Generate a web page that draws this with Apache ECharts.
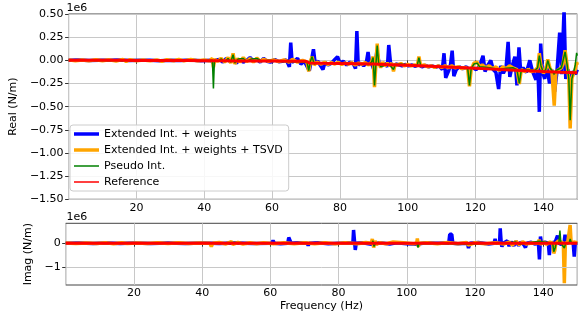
<!DOCTYPE html>
<html>
<head>
<meta charset="utf-8">
<script src="https://cdn.jsdelivr.net/npm/echarts@6/dist/echarts.min.js"></script>
<style>html,body{margin:0;padding:0;background:#fff}#c{width:585px;height:320px}</style>
</head>
<body>
<div id="c"></div>
<script>
// Values in units of 1e6 N/m, frequency in Hz
const seriesNames = ['Extended Int. + weights', 'Extended Int. + weights + TSVD', 'Pseudo Int.', 'Reference'];
const xTicks = [20, 40, 60, 80, 100, 120, 140];
const imagTicks = [-1, 0];

const blueReal = [[0,0.0],[3,0.003],[6,-0.002],[9,0.002],[12,0.0],[15,0.004],[18,-0.003],[21,0.002],[24,0.0],[27,-0.004],[30,0.002],[33,-0.002],[36,0.003],[39,-0.004],[42,0.0],[42.7,-0.03],[43.2,0.0],[44.5,0.01],[45.5,-0.02],[46.5,0.02],[47.5,-0.01],[48.5,0.02],[49.5,-0.03],[50.5,0.01],[51.5,-0.02],[52.5,0.0],[53.5,0.03],[54.5,-0.01],[55.5,0.01],[56.5,-0.02],[57.5,0.02],[58.5,-0.01],[59.5,-0.02],[60.8,0.01],[62,-0.015],[63,-0.01],[64.2,0.005],[65.1,-0.07],[65.5,0.19],[65.9,-0.02],[66.5,-0.01],[67.5,0.02],[68.5,-0.04],[69.5,-0.01],[70.5,-0.08],[71.0,-0.11],[71.6,0.0],[72.2,0.12],[72.7,-0.03],[73.5,-0.01],[74.3,-0.06],[75.0,-0.1],[75.6,-0.02],[76.5,-0.05],[77.5,-0.03],[78.5,0.01],[79.3,0.04],[80,-0.03],[81,-0.01],[82,-0.05],[83,-0.02],[84,-0.04],[84.6,-0.09],[85.0,0.317],[85.4,-0.05],[86.2,-0.03],[87,-0.06],[87.8,-0.02],[88.3,0.09],[88.8,-0.04],[89.5,-0.05],[90.2,-0.12],[90.9,0.1],[91.5,-0.02],[92.3,-0.06],[93.2,-0.03],[94.0,-0.07],[94.4,0.165],[94.9,-0.02],[95.6,-0.08],[96.5,-0.04],[97.5,-0.05],[98.3,-0.06],[99.2,-0.045],[100.2,-0.06],[101.2,-0.05],[102.3,-0.065],[103.2,-0.045],[104.2,-0.07],[105.2,-0.055],[106.2,-0.07],[107.2,-0.06],[108.2,-0.075],[109.2,-0.06],[110.2,-0.1],[110.7,0.076],[111.2,-0.19],[112,-0.12],[112.6,-0.05],[113.1,0.105],[113.6,-0.17],[114.3,-0.1],[115.2,-0.07],[116.2,-0.09],[117.2,-0.07],[118.2,-0.1],[119.2,-0.08],[120.2,-0.1],[121.2,-0.06],[122.2,0.05],[122.8,-0.12],[123.5,-0.06],[124.5,0.0],[125.2,-0.1],[126,-0.13],[126.8,-0.31],[127.4,-0.06],[128.2,-0.14],[129,-0.08],[129.6,0.2],[130.1,-0.18],[130.8,-0.06],[131.6,0.04],[132.2,-0.27],[132.8,0.14],[133.3,-0.12],[134,-0.08],[135,-0.13],[136,0.0],[136.8,-0.12],[137.8,-0.21],[138.4,-0.1],[138.8,-0.556],[139.2,0.18],[139.7,-0.12],[140.4,-0.2],[141,-0.05],[141.8,-0.25],[142.5,-0.1],[143.3,-0.34],[144,-0.12],[144.8,0.3],[145.4,-0.15],[146.1,0.55],[146.6,-0.2],[147.3,-0.1],[148,-0.2],[148.8,-0.12],[149.5,-0.15],[150,-0.1]];

const orangeReal = [[0,0.005],[2,-0.005],[4,0.004],[6,-0.006],[8,0.006],[10,-0.004],[12,0.005],[14,-0.008],[16,0.01],[17,-0.012],[18,0.006],[20,-0.005],[22,0.004],[24,-0.006],[26,0.005],[27.5,-0.01],[29,0.006],[31,-0.005],[32.5,0.01],[34,-0.006],[36,0.008],[38,-0.005],[40,0.004],[41.5,-0.006],[42.4,0.02],[42.7,-0.075],[43.1,0.01],[44,-0.01],[45,0.02],[46,-0.02],[47,0.03],[47.8,-0.03],[48.5,0.075],[49,-0.04],[49.8,0.02],[50.5,-0.02],[51.5,0.03],[52.5,-0.015],[53.5,0.02],[54.5,-0.02],[55.5,0.025],[56.5,-0.01],[57.5,0.01],[59,-0.01],[60.5,0.005],[62,-0.015],[63.5,0.005],[65,-0.02],[66,0.01],[67.5,-0.02],[69,0.0],[70.3,-0.02],[70.8,-0.12],[71.3,-0.01],[71.8,0.04],[72.4,-0.05],[73.2,-0.02],[74.5,-0.04],[75.5,-0.02],[76.5,-0.045],[77.5,-0.025],[78.5,-0.04],[79.5,-0.02],[80.5,-0.045],[81.5,-0.03],[82.5,-0.04],[83.5,-0.025],[84.5,-0.05],[85.5,-0.03],[86.5,-0.04],[87.5,-0.025],[88.5,-0.05],[89.3,-0.02],[89.8,0.04],[90.2,-0.29],[90.6,-0.05],[91.0,0.18],[91.4,-0.02],[92,-0.08],[92.6,-0.02],[93.3,-0.06],[94,-0.03],[94.7,-0.06],[95.3,-0.03],[95.8,-0.12],[96.3,-0.04],[97,-0.05],[98,-0.035],[99,-0.06],[100,-0.045],[101,-0.06],[102,-0.05],[102.8,-0.06],[103.3,0.04],[103.8,-0.06],[104.8,-0.05],[106,-0.07],[107,-0.06],[108,-0.075],[109,-0.06],[110,-0.075],[111,-0.06],[112,-0.08],[113,-0.06],[114,-0.08],[115,-0.07],[116,-0.09],[117,-0.075],[117.7,-0.1],[118.2,-0.28],[118.7,-0.1],[119.5,-0.03],[120.5,-0.02],[121.2,-0.07],[122,-0.05],[123,-0.08],[124,-0.06],[125,-0.09],[126,-0.07],[127,-0.11],[128,-0.07],[129,-0.09],[130,-0.06],[131,-0.08],[132.2,-0.1],[132.9,-0.255],[133.5,-0.1],[134.5,-0.12],[135.5,-0.1],[136.5,-0.12],[137.5,-0.11],[138.3,-0.08],[138.8,0.076],[139.3,-0.06],[140,-0.14],[140.7,-0.1],[141.3,0.01],[141.9,-0.08],[142.5,-0.12],[143.2,-0.49],[143.7,-0.12],[144.5,-0.1],[145.3,-0.08],[145.8,-0.04],[146.4,0.11],[147,-0.05],[147.5,-0.2],[147.9,-0.736],[148.4,-0.2],[148.9,-0.14],[149.4,-0.1],[149.8,-0.02],[150,-0.05]];

const greenReal = [[0,0.0],[5,0.002],[10,-0.002],[15,0.002],[20,-0.002],[25,0.002],[30,-0.002],[35,0.002],[40,-0.003],[42.4,0.0],[42.7,-0.303],[43.0,0.0],[44,-0.01],[45,0.015],[46,-0.015],[47,0.02],[47.8,-0.02],[48.5,0.06],[49,-0.03],[50,0.015],[51.5,0.02],[52.5,-0.01],[54,0.015],[55.5,0.02],[57,-0.01],[59,0.0],[62,-0.01],[65,-0.015],[67.5,-0.015],[70.3,-0.02],[70.8,-0.11],[71.3,-0.01],[71.8,0.04],[72.4,-0.04],[73.5,-0.025],[76,-0.035],[79,-0.025],[82,-0.035],[85,-0.035],[88.5,-0.045],[89.3,-0.02],[89.8,0.03],[90.2,-0.27],[90.6,-0.05],[91.0,0.16],[91.4,-0.02],[92,-0.07],[93.3,-0.05],[94.7,-0.05],[95.8,-0.1],[96.3,-0.045],[98,-0.04],[100,-0.05],[102.8,-0.055],[103.3,0.03],[103.8,-0.055],[106,-0.065],[109,-0.065],[112,-0.075],[115,-0.075],[117.7,-0.09],[118.2,-0.27],[118.7,-0.09],[119.5,-0.04],[120.5,-0.03],[121.2,-0.07],[123,-0.075],[125,-0.085],[127,-0.1],[129,-0.085],[131,-0.08],[132.2,-0.1],[132.9,-0.25],[133.5,-0.1],[135.5,-0.105],[137.5,-0.11],[138.3,-0.08],[138.8,0.05],[139.3,-0.06],[140,-0.13],[140.7,-0.1],[141.3,0.0],[141.9,-0.08],[142.5,-0.11],[143.2,-0.15],[143.7,-0.11],[145.3,-0.08],[146.4,0.09],[147,-0.05],[147.5,-0.2],[147.9,-0.646],[148.4,-0.2],[148.9,-0.13],[149.4,-0.05],[149.8,0.08],[150,0.05]];

const redReal = [[0,0.0],[5,0.0],[10,0.0],[15,0.0],[20,-0.001],[25,-0.002],[30,-0.002],[35,-0.003],[40,-0.004],[45,-0.005],[50,-0.006],[55,-0.007],[60,-0.008],[65,-0.009],[70,-0.011],[71,-0.028],[75,-0.032],[80,-0.034],[85,-0.037],[90,-0.041],[95,-0.047],[100,-0.053],[105,-0.061],[110,-0.069],[115,-0.077],[120,-0.086],[125,-0.095],[130,-0.104],[135,-0.113],[140,-0.121],[145,-0.128],[150,-0.135]];

const blueImag = [[0,0],[4,0.01],[8,-0.01],[12,0.01],[16,-0.01],[20,0.01],[25,-0.01],[30,0.01],[35,-0.01],[40,0.01],[45,-0.01],[50,0.01],[55,-0.01],[60.4,0.0],[60.8,0.11],[61.2,0.0],[63,-0.02],[65.1,0.0],[65.4,0.24],[65.8,0.24],[66.1,0.0],[68,0.02],[70.8,0.0],[71.1,-0.1],[71.4,0.0],[74,0.02],[77,-0.02],[80.1,0.0],[80.4,0.08],[80.7,0.0],[82.5,0.02],[84.2,0.0],[84.4,0.55],[84.7,0.55],[84.9,-0.28],[85.2,0.0],[87,0.02],[90,-0.05],[92,0.02],[95,-0.03],[97,0.02],[100,-0.02],[103,-0.04],[105.5,0.02],[108.5,0.0],[109,0.08],[109.5,0.0],[111.5,0.02],[112.3,0.0],[112.6,0.37],[113.2,0.37],[113.5,0.0],[115,-0.02],[117.8,0.0],[118.1,-0.2],[118.5,0.0],[121,0.03],[124,-0.03],[125.6,0.0],[125.9,0.18],[126.2,0.0],[127.2,0.0],[127.4,0.62],[127.7,0.0],[127.9,-0.14],[128.3,0.0],[129.5,0.1],[130,-0.12],[130.6,0.06],[131.4,-0.1],[132,0.08],[132.8,-0.1],[133.5,0.05],[134.4,-0.08],[134.8,-0.18],[135.2,0.0],[136.5,0.04],[137.5,-0.03],[138.6,0.0],[138.9,-0.67],[139.2,0.28],[139.5,0.0],[140.5,0.05],[141.5,0.0],[141.8,-0.49],[142.1,0.0],[143.5,0.05],[144.2,0.32],[144.5,0.0],[145.3,-0.05],[146.1,0.0],[146.4,0.36],[146.7,0.0],[148,0.05],[148.8,0.0],[149.1,-0.56],[149.4,0.0],[150,0.02]];

const orangeImag = [[0,0.01],[3,-0.01],[6,0.01],[9,-0.01],[12,0.015],[14,-0.02],[16.4,0.02],[18,-0.01],[21,0.01],[24,-0.015],[27,0.015],[30,-0.01],[33,0.015],[36,-0.01],[39,0.01],[42.3,0.0],[42.7,-0.14],[43.1,0.0],[45,0.03],[47,-0.03],[48.6,0.07],[49,-0.05],[50.5,0.03],[52,-0.03],[54,0.02],[56,-0.02],[58,0.02],[61,-0.02],[64,0.02],[67,-0.02],[70,0.02],[73,-0.02],[76,0.02],[79,-0.02],[82,0.02],[85.5,-0.02],[88,0.03],[89.6,0.0],[89.9,0.18],[90.3,-0.18],[90.7,0.1],[91.1,-0.05],[92,0.02],[94,-0.02],[96,0.05],[96.5,-0.03],[99,0.02],[102,-0.02],[102.9,0.0],[103.1,0.2],[103.4,-0.15],[103.7,0.0],[106,0.02],[109,-0.02],[112,0.03],[115,-0.02],[117.5,0.03],[118,-0.08],[120,0.02],[123,-0.02],[126,0.02],[128.5,-0.03],[130,0.05],[131,-0.08],[132,0.08],[133,-0.06],[134,0.06],[135,-0.03],[137,0.02],[138.5,0.0],[138.8,0.14],[139.2,-0.05],[140.2,0.05],[141,-0.05],[142,0.05],[142.8,0.0],[143.1,-0.42],[143.4,-0.3],[143.7,0.0],[144.5,0.1],[145.3,0.05],[145.9,0.0],[146.2,-1.67],[146.5,0.0],[147.2,0.05],[147.6,0.0],[147.9,0.76],[148.2,0.0],[149,0.05],[150,0.02]];

const greenImag = [[0,0],[8,0.005],[16.1,0.0],[16.4,-0.05],[16.7,0.0],[30,0.005],[42.4,0.0],[42.7,-0.05],[43,0.0],[48.6,0.03],[60,0.0],[80,0.005],[89.8,0.0],[90.1,0.1],[90.4,-0.14],[90.8,0.0],[100,0.0],[103.0,0.0],[103.3,-0.18],[103.6,0.0],[118,-0.03],[130,0.02],[132,0.05],[133,-0.04],[138.8,0.08],[139.2,0.0],[142.8,0.0],[143.1,-0.35],[143.5,-0.2],[143.8,0.0],[144.6,0.0],[144.9,0.53],[145.2,0.0],[146.2,-0.2],[146.6,0.0],[147.6,0.0],[147.9,0.18],[148.3,0.0],[150,0.01]];

const redImag = [[0,0],[50,0],[100,0],[150,0]];

const FONT = 'DejaVu Sans';
const colors = ['#0000ff', '#ffa500', '#008000', '#ff0000'];
const widths = [3.5, 3.5, 1.5, 3];
const minus = v => (v < 0 ? '\u2212' : '');

function xAxisCfg(gridIndex) {
  return {
    type: 'value', gridIndex, min: 0, max: 150, interval: 20,
    axisLine: { show: false },
    axisTick: { show: true, length: 3.5, lineStyle: { color: '#333' } },
    axisLabel: { margin: 3, fontFamily: FONT, fontSize: 11, color: '#000',
      showMinLabel: false, showMaxLabel: false,
      formatter: v => xTicks.indexOf(v) >= 0 ? String(v) : '' },
    splitLine: { show: true, lineStyle: { color: '#c8c8c8', width: 1 } }
  };
}

function mkSeries(name, data, idx, axisIdx, extra) {
  return Object.assign({
    name, type: 'line', data, xAxisIndex: axisIdx, yAxisIndex: axisIdx,
    symbol: 'none', showSymbol: false, animation: false, z: 2 + idx,
    lineStyle: { color: colors[idx], width: widths[idx] },
    itemStyle: { color: colors[idx] }, clip: true
  }, extra || {});
}

const chart = echarts.init(document.getElementById('c'), null, { renderer: 'canvas' });
chart.setOption({
  animation: false,
  backgroundColor: '#fff',
  grid: [
    { left: 65.7, top: 14, width: 511.6, height: 185.3, show: true, borderColor: '#444', borderWidth: 1, backgroundColor: 'transparent' },
    { left: 65.7, top: 223.3, width: 511.6, height: 61.7, show: true, borderColor: '#444', borderWidth: 1, backgroundColor: 'transparent' }
  ],
  xAxis: [
    xAxisCfg(0),
    Object.assign(xAxisCfg(1), { name: 'Frequency (Hz)', nameLocation: 'middle', nameGap: 16,
      nameTextStyle: { fontFamily: FONT, fontSize: 11, color: '#000', verticalAlign: 'top' } })
  ],
  yAxis: [
    { type: 'value', gridIndex: 0, min: -1.5, max: 0.5, interval: 0.25,
      name: 'Real (N/m)', nameLocation: 'middle', nameGap: 42,
      nameTextStyle: { fontFamily: FONT, fontSize: 11, color: '#000' },
      axisLine: { show: false },
      axisTick: { show: true, length: 3.5, lineStyle: { color: '#333' } },
      axisLabel: { margin: 5, fontFamily: FONT, fontSize: 11, color: '#000',
        formatter: v => minus(v) + Math.abs(v).toFixed(2) },
      splitLine: { show: true, lineStyle: { color: '#c8c8c8', width: 1 } } },
    { type: 'value', gridIndex: 1, min: -1.74, max: 0.83,
      name: 'Imag (N/m)', nameLocation: 'middle', nameGap: 23,
      nameTextStyle: { fontFamily: FONT, fontSize: 11, color: '#000' },
      axisLine: { show: false },
      axisTick: { show: true, length: 3.5, customValues: imagTicks, lineStyle: { color: '#333' } },
      axisLabel: { margin: 5, fontFamily: FONT, fontSize: 11, color: '#000', customValues: imagTicks,
        formatter: v => minus(v) + Math.abs(Math.round(v)) },
      splitLine: { show: false } }
  ],
  legend: {
    left: 70, top: 125, orient: 'vertical',
    padding: [3, 6, 3, 4], itemGap: 4, itemWidth: 25, itemHeight: 12, itemTextGap: 8,
    backgroundColor: 'rgba(255,255,255,0.85)', borderColor: '#cccccc', borderWidth: 1, borderRadius: 3,
    textStyle: { fontFamily: FONT, fontSize: 11, color: '#000', lineHeight: 12 },
    data: seriesNames.map((n, i) => ({ name: n, icon: 'path://M0,0H25V' + (i < 2 ? '3.5' : '1.5') + 'H0Z',
      itemStyle: { color: colors[i] } })),
    itemStyle: { borderWidth: 0 }
  },
  graphic: [
    { type: 'text', left: 66.5, top: 2.5, style: { text: '1e6', font: '11px "DejaVu Sans"', fill: '#000' } },
    { type: 'text', left: 66.5, top: 211.5, style: { text: '1e6', font: '11px "DejaVu Sans"', fill: '#000' } }
  ],
  series: [
    mkSeries(seriesNames[0], blueReal, 0, 0),
    mkSeries(seriesNames[1], orangeReal, 1, 0),
    mkSeries(seriesNames[2], greenReal, 2, 0),
    mkSeries(seriesNames[3], redReal, 3, 0),
    mkSeries(seriesNames[0], blueImag, 0, 1, {
      markLine: { silent: true, symbol: 'none', label: { show: false }, animation: false,
        lineStyle: { color: '#c8c8c8', width: 1, type: 'solid' },
        data: imagTicks.map(t => ({ yAxis: t })) } }),
    mkSeries(seriesNames[1], orangeImag, 1, 1),
    mkSeries(seriesNames[2], greenImag, 2, 1),
    mkSeries(seriesNames[3], redImag, 3, 1)
  ]
});
</script>
</body>
</html>
